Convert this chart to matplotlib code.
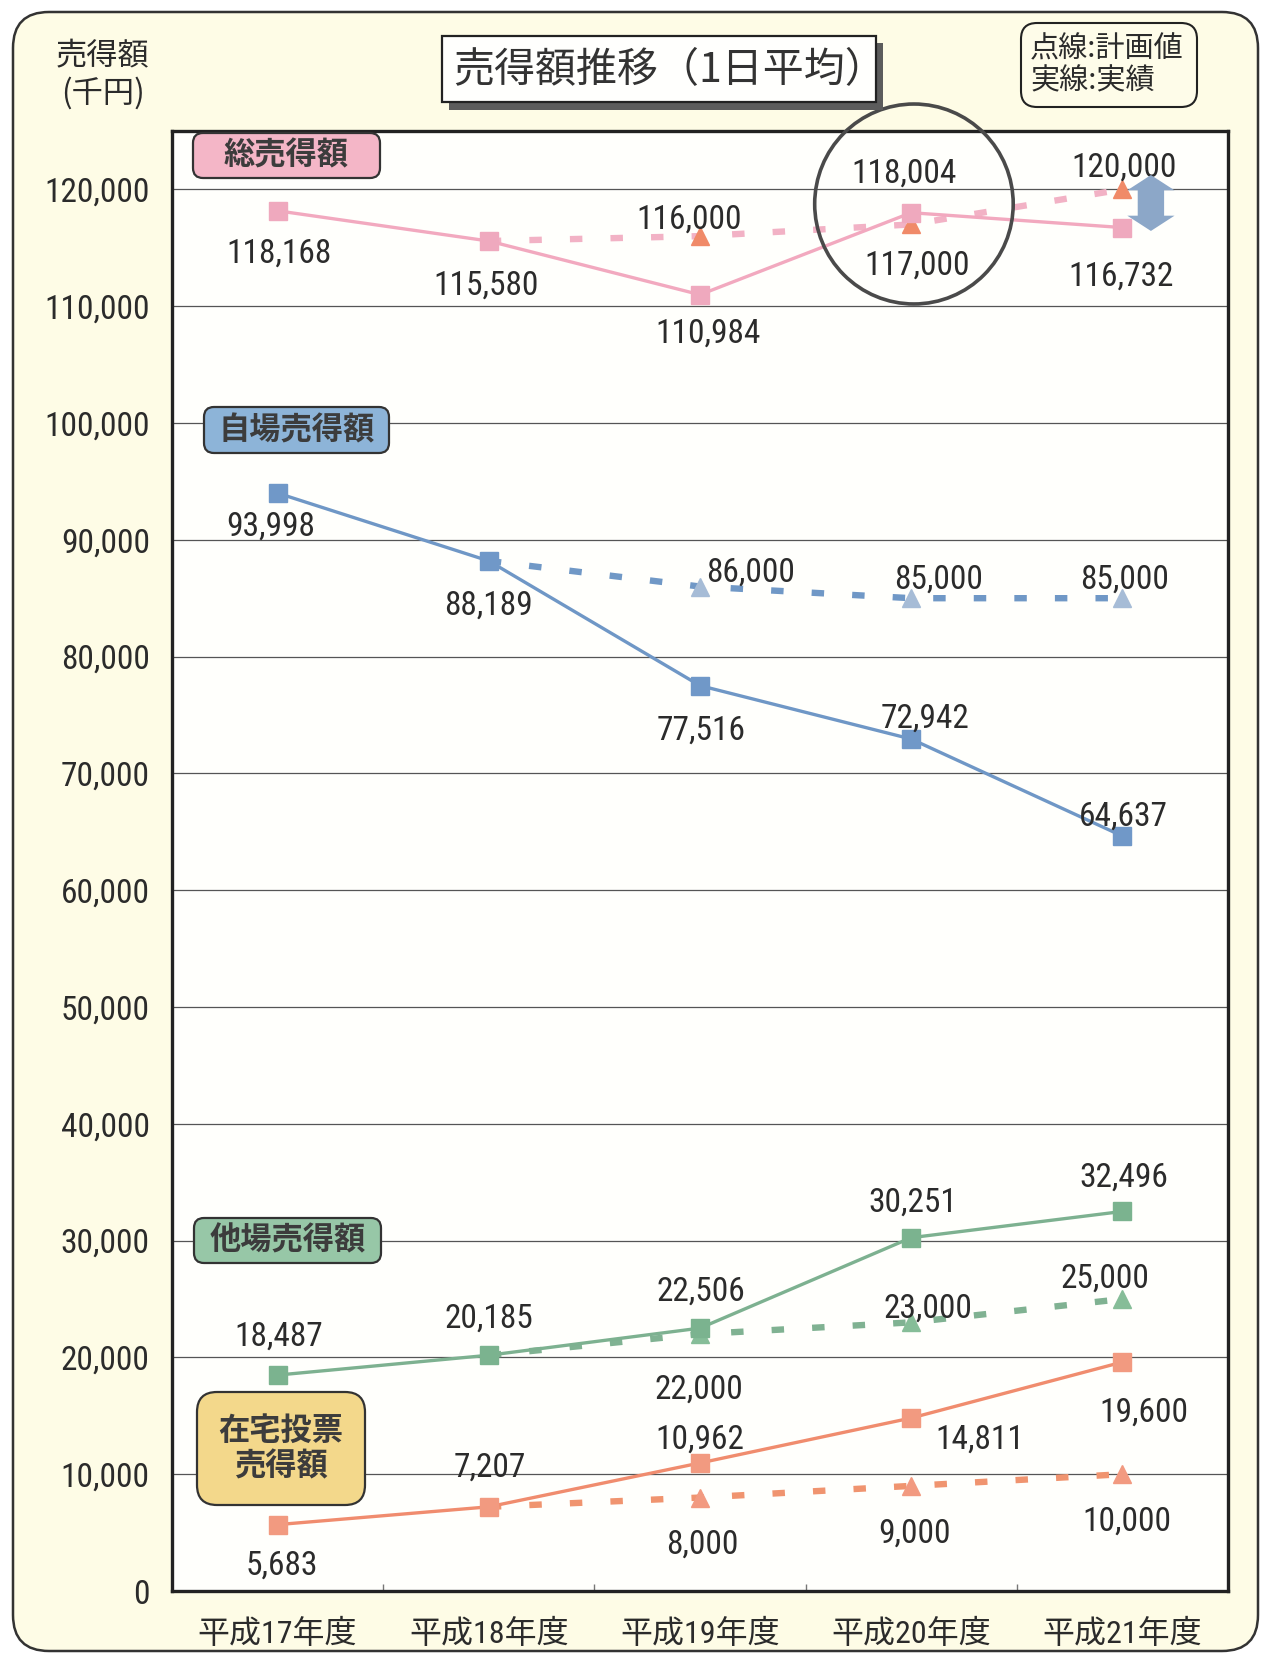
import matplotlib
matplotlib.use('Agg')
import matplotlib.pyplot as plt
from matplotlib.patches import FancyBboxPatch, Ellipse, Rectangle, FancyArrowPatch

W, H = 1261, 1657
DPI = 100

# ---------------- data ----------------
categories = ['平成17年度', '平成18年度', '平成19年度', '平成20年度', '平成21年度']
total_actual = [118168, 115580, 110984, 118004, 116732]
total_plan = [116000, 117000, 120000]          # H19-H21
home_actual = [93998, 88189, 77516, 72942, 64637]
home_plan = [86000, 85000, 85000]
other_actual = [18487, 20185, 22506, 30251, 32496]
other_plan = [22000, 23000, 25000]
zaitaku_actual = [5683, 7207, 10962, 14811, 19600]
zaitaku_plan = [8000, 9000, 10000]
yticks = list(range(0, 120001, 10000))

NUM_FONT = ['Liberation Sans Narrow', 'Roboto Condensed', 'Noto Sans CJK JP', 'DejaVu Sans']
JP_FONT = ['Noto Sans CJK JP', 'DejaVu Sans']
TXT = '#2b2b2b'

fig = plt.figure(figsize=(W / DPI, H / DPI), dpi=DPI, facecolor='white')

# background overlay (pixel coordinates)
bg = fig.add_axes([0, 0, 1, 1], zorder=0)
bg.set_xlim(0, W); bg.set_ylim(H, 0); bg.axis('off')
bg.add_patch(FancyBboxPatch((13, 12), W - 16, 1639,
                            boxstyle='round,pad=0,rounding_size=36',
                            fc='#FEFCE6', ec='#333333', lw=1.8))

# main axes
ax = fig.add_axes([172 / W, 1 - 1591 / H, (1228 - 172) / W, (1591 - 131) / H], zorder=1)
ax.set_facecolor('#FFFFFC')
ax.set_xlim(-0.5, 4.5)
ax.set_ylim(0, 125000)
ax.set_yticks(yticks)
ax.set_yticklabels([f'{v:,}' for v in yticks], fontsize=24, family=NUM_FONT, color=TXT)
ax.set_xticks(range(len(categories)))
ax.set_xticklabels(categories, fontsize=23, family=NUM_FONT, color=TXT)
ax.set_xticks([i + 0.5 for i in range(len(categories) - 1)], minor=True)
ax.tick_params(axis='y', length=0, pad=16)
ax.tick_params(axis='x', which='major', length=0, pad=20)
ax.tick_params(axis='x', which='minor', length=5, width=1, direction='in', color='#777777')
ax.grid(axis='y', color='#555555', lw=0.9)
ax.set_axisbelow(True)
for s in ax.spines.values():
    s.set_linewidth(2.4)
    s.set_color('#222222')

x = list(range(len(categories)))
plan_x = [1, 2, 3, 4]

series = [
    # actual, plan, line color, marker color, plan dash color, triangle color
    (total_actual, total_plan, '#F2A9BF', '#EFA9BE', '#F2B2C5', '#F08A68'),
    (home_actual, home_plan, '#6F97C6', '#7098C8', '#7098C6', '#A6BCD6'),
    (other_actual, other_plan, '#7DB190', '#7BB38F', '#80B292', '#86BD98'),
    (zaitaku_actual, zaitaku_plan, '#F08C6E', '#F29A80', '#F0946F', '#F29A80'),
]

for act, plan, lc, mc, dc, tc in series:
    py = [act[1]] + plan
    ax.plot(plan_x, py, color=dc, lw=4.6, linestyle=(0, (1.95, 4.4)),
            dash_capstyle='butt', zorder=3)
    ax.plot(plan_x[1:], plan, linestyle='none', marker='^', ms=13,
            color=tc, mec=tc, zorder=4)
    ax.plot(x, act, color=lc, lw=2.4, marker='s', ms=13.5, mfc=mc, mec=mc, zorder=5)

# label offsets (pixels)
off_total_a = [(1, -43), (-3, -45), (8, -39), (-7, 39), (-1, -49)]
off_total_p = [(-11, 16), (6, -41), (2, 22)]
off_home_a = [(-7, -34), (0, -45), (1, -45), (14, 20), (1, 19)]
off_home_p = [(51, 14), (27, 19), (2, 19)]
off_other_a = [(1, 38), (0, 37), (1, 36), (2, 35), (1, 34)]
off_other_p = [(-1, -56), (17, 14), (-17, 20)]
off_zai_a = [(4, -41), (1, 39), (0, 23), (69, -22), (21, -51)]
off_zai_p = [(2, -47), (3, -48), (4, -47)]

def labels(xs, vals, offs):
    for xi, v, (dx, dy) in zip(xs, vals, offs):
        ax.annotate(f'{v:,}', (xi, v), xytext=(dx, dy), textcoords='offset pixels',
                    ha='center', va='center', fontsize=24, family=NUM_FONT,
                    color=TXT, zorder=7, annotation_clip=False)

labels(x, total_actual, off_total_a)
labels(plan_x[1:], total_plan, off_total_p)
labels(x, home_actual, off_home_a)
labels(plan_x[1:], home_plan, off_home_p)
labels(x, other_actual, off_other_a)
labels(plan_x[1:], other_plan, off_other_p)
labels(x, zaitaku_actual, off_zai_a)
labels(plan_x[1:], zaitaku_plan, off_zai_p)

# highlight ellipse around H20 total
ax.add_patch(Ellipse((3.013, 118750), 0.94, 17120, fill=False, ec='#4a4a4a',
                     lw=2.6, clip_on=False, zorder=8))

# double arrow between plan and actual at H21
arr_x = 4.135
arr_top = total_plan[-1] + 1230
arr_bot = total_actual[-1] - 290
arr_mid = (arr_top + arr_bot) / 2
for end in (arr_top, arr_bot):
    ax.add_patch(FancyArrowPatch((arr_x, arr_mid), (arr_x, end),
                                 arrowstyle='simple,head_length=1.1,head_width=3.4,tail_width=1.9',
                                 mutation_scale=10, fc='#8CA7C8', ec='none', lw=0,
                                 shrinkA=0, shrinkB=0, clip_on=False, zorder=8))

# foreground overlay
fg = fig.add_axes([0, 0, 1, 1], zorder=2)
fg.set_xlim(0, W); fg.set_ylim(H, 0); fg.axis('off')
fg.patch.set_alpha(0)

# title box with shadow
fg.add_patch(Rectangle((449, 43), 434, 67, fc='#5c5c5c', ec='none'))
fg.add_patch(Rectangle((442, 36), 434, 66, fc='#FFFFFD', ec='#222222', lw=1.6))
fg.text(670, 71, '売得額推移（1日平均）', ha='center', va='center', fontsize=29.5,
        family=JP_FONT, color='#333333')

# y unit label
fg.text(103, 56, '売得額', ha='center', va='center', fontsize=22.5, family=JP_FONT, color=TXT)
fg.text(103, 93, '(千円)', ha='center', va='center', fontsize=22.5, family=JP_FONT, color=TXT)

# legend box
fg.add_patch(FancyBboxPatch((1021, 23), 176, 84, boxstyle='round,pad=0,rounding_size=16',
                            fc='#FEFCE9', ec='#222222', lw=1.5))
fg.text(1030, 49, '点線:計画値', ha='left', va='center', fontsize=21, family=JP_FONT, color=TXT)
fg.text(1030, 81, '実線:実績', ha='left', va='center', fontsize=21, family=JP_FONT, color=TXT)

# series label boxes
boxes = [
    ('総売得額', 193, 133, 187, 45, '#F4B6C7', 10),
    ('自場売得額', 204, 407, 185, 46, '#8DB4D8', 10),
    ('他場売得額', 194, 1218, 187, 45, '#97C7A7', 10),
    ('在宅投票\n売得額', 197, 1392, 168, 113, '#F3D88B', 20),
]
for txt, bx, by, bw, bh, fc, r in boxes:
    fg.add_patch(FancyBboxPatch((bx, by), bw, bh, boxstyle=f'round,pad=0,rounding_size={r}',
                                fc=fc, ec='#333333', lw=1.6))
    fg.text(bx + bw / 2, by + bh / 2, txt, ha='center', va='center', fontsize=22.5,
            fontweight='bold', family=JP_FONT, color='#3c3c3c', linespacing=1.15)

fig.savefig('out.png', dpi=DPI, facecolor='white')
